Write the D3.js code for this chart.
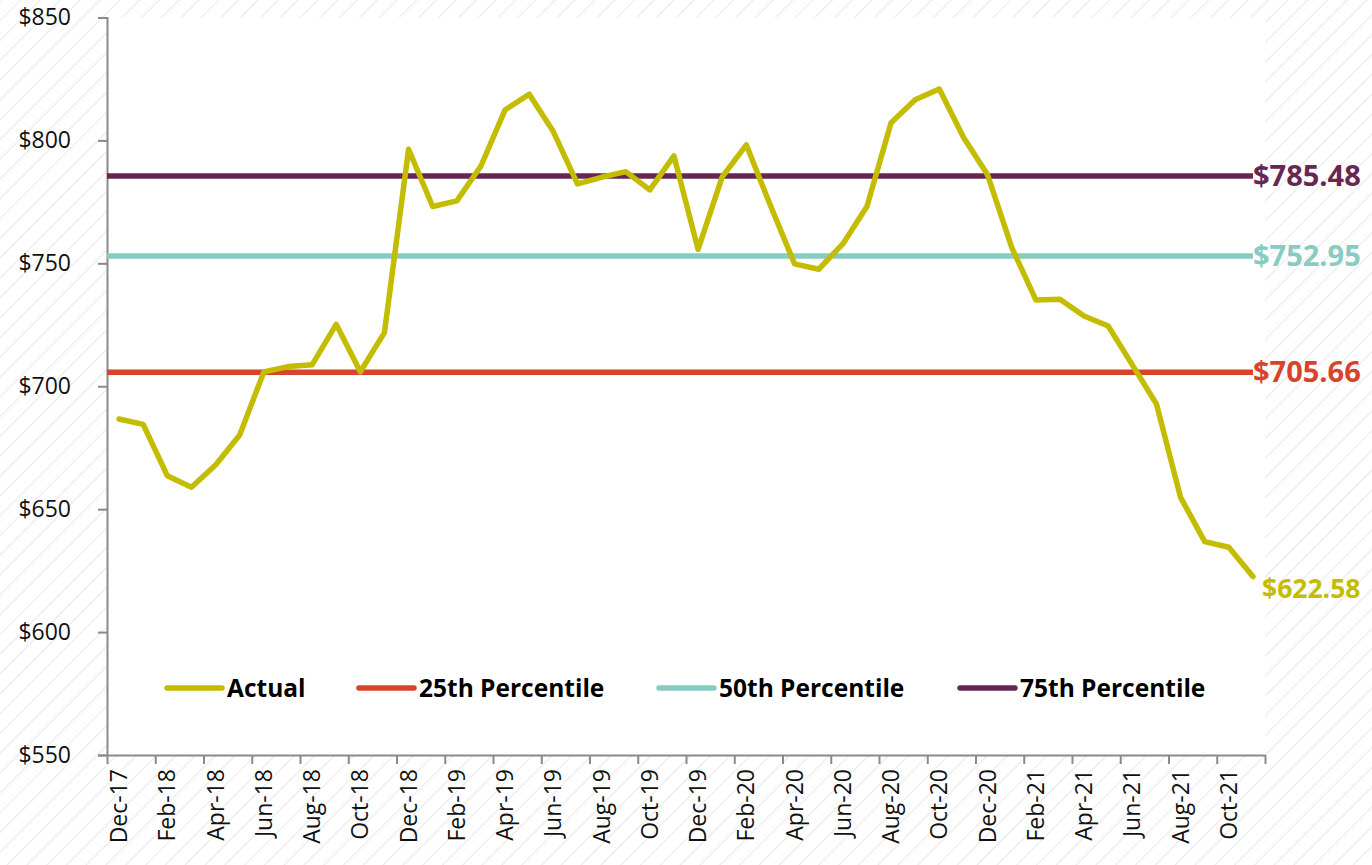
<!DOCTYPE html>
<html>
<head>
<meta charset="utf-8">
<script src="https://cdn.jsdelivr.net/npm/d3@7"></script>
<style>
  html, body { margin: 0; padding: 0; background: #fff; }
  svg { display: block; }
  text { font-family: "Open Sans", "Noto Sans", sans-serif; }
</style>
</head>
<body>
<svg id="chart" width="1372" height="865"></svg>
<script>
// ---- data ----
const categories = [
  "Dec-17","Jan-18","Feb-18","Mar-18","Apr-18","May-18","Jun-18","Jul-18","Aug-18","Sep-18","Oct-18","Nov-18",
  "Dec-18","Jan-19","Feb-19","Mar-19","Apr-19","May-19","Jun-19","Jul-19","Aug-19","Sep-19","Oct-19","Nov-19",
  "Dec-19","Jan-20","Feb-20","Mar-20","Apr-20","May-20","Jun-20","Jul-20","Aug-20","Sep-20","Oct-20","Nov-20",
  "Dec-20","Jan-21","Feb-21","Mar-21","Apr-21","May-21","Jun-21","Jul-21","Aug-21","Sep-21","Oct-21","Nov-21"
];
const actual = [
  686.7, 684.5, 663.6, 658.9, 668.0, 680.2, 705.8, 708.0, 708.7, 725.2, 705.9, 721.8,
  796.4, 773.1, 775.4, 789.6, 812.4, 818.8, 803.6, 782.3, 785.0, 787.3, 779.9, 793.7,
  755.7, 785.2, 798.2, 773.5, 749.8, 747.6, 757.9, 773.1, 807.2, 816.5, 820.9, 801.3,
  786.0, 756.5, 735.1, 735.4, 728.6, 724.5, 708.7, 692.8, 654.8, 636.8, 634.5, 622.58
];
const p25 = 705.66;
const p50 = 752.95;
const p75 = 785.48;
const yTicks = [550, 600, 650, 700, 750, 800, 850];
const seriesNames = ["Actual", "25th Percentile", "50th Percentile", "75th Percentile"];
const seriesColors = ["#C4BC00", "#D9432B", "#88CBC0", "#662752"];

// ---- layout ----
const svg = d3.select("#chart");
const W = 1372, H = 865;
const mLeft = 107, mRight = 1265, mTop = 17.5, mBottom = 755;

// hatched background
const defs = svg.append("defs");
const pat = defs.append("pattern")
  .attr("id", "hatch").attr("patternUnits", "userSpaceOnUse")
  .attr("width", 14).attr("height", 14)
  .attr("patternTransform", "rotate(45)");
pat.append("rect").attr("width", 14).attr("height", 14).attr("fill", "#ffffff");
pat.append("line").attr("x1", 0).attr("y1", 0).attr("x2", 0).attr("y2", 14)
  .attr("stroke", "#ebebeb").attr("stroke-width", 2.5);

svg.append("rect").attr("width", W).attr("height", H).attr("fill", "url(#hatch)");
svg.append("rect").attr("x", mLeft).attr("y", mTop).attr("width", mRight - mLeft).attr("height", mBottom - mTop)
  .attr("fill", "#ffffff");

const x = d3.scaleLinear().domain([0, categories.length]).range([mLeft, mRight]);
const y = d3.scaleLinear().domain([550, 850]).range([mBottom, mTop]);
const xc = i => x(i + 0.5);

// axes
const axisColor = "#8a8a8a";
const yAxis = svg.append("g").attr("transform", `translate(${mLeft},0)`)
  .call(d3.axisLeft(y).tickValues(yTicks).tickFormat(d => "$" + d).tickSize(9).tickPadding(27));
yAxis.select(".domain").attr("stroke", axisColor).attr("stroke-width", 2);
yAxis.selectAll(".tick line").attr("stroke", axisColor).attr("stroke-width", 2);
yAxis.selectAll(".tick text").attr("fill", "#111").style("font-size", "23px")
  .style("font-family", "'Open Sans', sans-serif");

const tickIdx = d3.range(0, categories.length + 1, 2);
const xAxis = svg.append("g").attr("transform", `translate(0,${mBottom})`)
  .call(d3.axisBottom(x).tickValues(tickIdx).tickFormat("").tickSize(9).tickSizeOuter(0));
xAxis.select(".domain").attr("stroke", axisColor).attr("stroke-width", 2);
xAxis.selectAll(".tick line").attr("stroke", axisColor).attr("stroke-width", 2);

const labelIdx = d3.range(0, categories.length, 2);
svg.append("g").selectAll("text").data(labelIdx).join("text")
  .attr("transform", i => `translate(${xc(i) + 8},${mBottom + 14}) rotate(-90)`)
  .attr("text-anchor", "end")
  .style("font-size", "23px").attr("fill", "#111")
  .text(i => categories[i]);

// percentile lines
const pct = [p25, p50, p75];
svg.append("g").selectAll("line").data(pct).join("line")
  .attr("x1", mLeft).attr("x2", mRight - 12)
  .attr("y1", d => y(d)).attr("y2", d => y(d))
  .attr("stroke", (d, i) => seriesColors[i + 1]).attr("stroke-width", 5.5);

// actual line
const line = d3.line().x((d, i) => xc(i)).y(d => y(d));
svg.append("path").datum(actual).attr("d", line)
  .attr("fill", "none").attr("stroke", seriesColors[0]).attr("stroke-width", 5.5)
  .attr("stroke-linejoin", "round").attr("stroke-linecap", "round");

// end labels
const fmt = d => "$" + d.toFixed(2);
svg.append("g").selectAll("text").data(pct).join("text")
  .attr("x", mRight - 12).attr("y", d => y(d)).attr("dy", "0.35em")
  .style("font-size", "29px").style("font-weight", "bold")
  .attr("fill", (d, i) => seriesColors[i + 1]).text(fmt);
const last = actual[actual.length - 1];
svg.append("text").attr("x", mRight - 3).attr("y", y(last) + 12).attr("dy", "0.35em")
  .style("font-size", "26.5px").style("font-weight", "bold")
  .attr("fill", seriesColors[0]).text(fmt(last));

// legend
const legendX = [167, 359, 659, 960];
const lg = svg.append("g").selectAll("g").data(seriesNames).join("g")
  .attr("transform", (d, i) => `translate(${legendX[i]},688)`);
lg.append("line").attr("x1", 0).attr("x2", 55).attr("y1", 0).attr("y2", 0)
  .attr("stroke", (d, i) => seriesColors[i]).attr("stroke-width", 5.5).attr("stroke-linecap", "round");
lg.append("text").attr("x", 60).attr("y", 0).attr("dy", "0.35em")
  .style("font-size", "24.5px").style("font-weight", "bold").attr("fill", "#000")
  .text(d => d);
</script>
</body>
</html>
